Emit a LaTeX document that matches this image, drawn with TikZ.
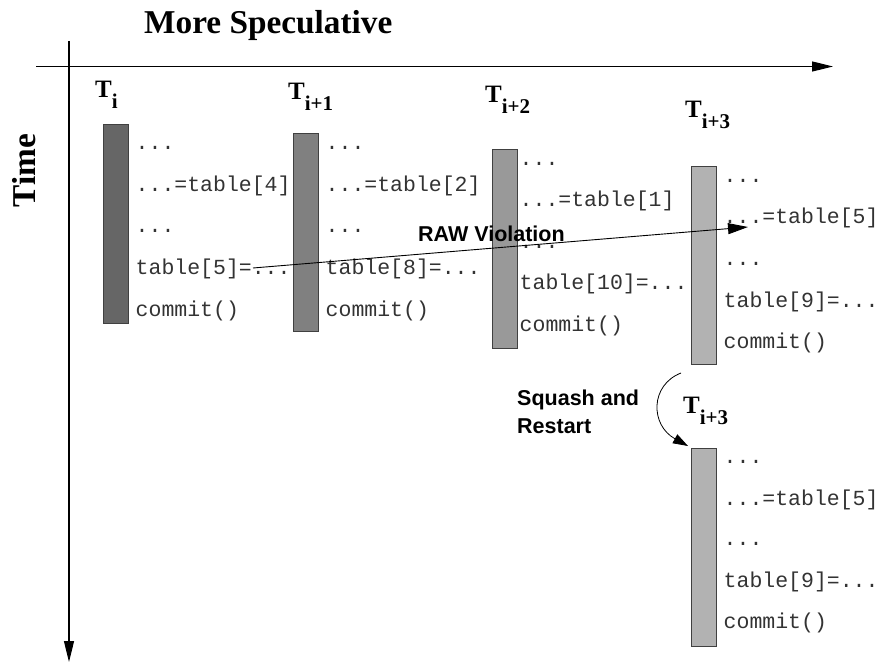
\documentclass[tikz,border=0pt]{standalone}
\usepackage{fontspec}
\setmainfont{Liberation Serif}
\newfontfamily\codefont{Liberation Mono}
\newfontfamily\helfont{Liberation Sans}
\usetikzlibrary{arrows.meta}
\definecolor{gA}{gray}{0.40}
\definecolor{gB}{gray}{0.50}
\definecolor{gC}{gray}{0.60}
\definecolor{gD}{gray}{0.70}
\newcommand{\tsub}[1]{T\raisebox{-11pt}{\fontsize{21}{21}\selectfont #1}}
\begin{document}
\begin{tikzpicture}[x=1pt,y=-1pt,
  axis/.style={line width=1.2pt,-{Triangle[length=21pt,width=10pt]}},
  bar/.style={draw=black!75,line width=0.9pt,minimum width=25pt,minimum height=198pt,anchor=north west,inner sep=0pt},
  code/.style={anchor=base west,inner sep=0pt,text=black!80,font=\codefont\fontsize{21.5}{21.5}\selectfont},
  tlabel/.style={anchor=base west,inner sep=0pt,font=\bfseries\fontsize{25}{25}\selectfont},
  title/.style={inner sep=0pt,font=\bfseries\fontsize{33.3}{33.3}\selectfont},
  note/.style={anchor=base west,inner sep=0pt,font=\helfont\bfseries\fontsize{21.5}{21.5}\selectfont},
  conn/.style={line width=0.9pt,-{Triangle[length=20pt,width=11pt]}}]
\useasboundingbox (0,0) rectangle (881,663);
% axes
\coordinate (hx0) at (36,66.5);
\coordinate (hx1) at (833,66.5);
\coordinate (vy0) at (69,41);
\coordinate (vy1) at (69,662);
\draw[axis] (hx0) -- (hx1);
\draw[axis] (vy0) -- (vy1);
\node[title,anchor=base west] (ms) at (144,33.5) {More Speculative};
\node[title,anchor=base west,rotate=90] (time) at (35,207.5) {Time};
% bars
\node[bar,fill=gA] (b1) at (102.5,124.5) {};
\node[bar,fill=gB] (b2) at (293,133) {};
\node[bar,fill=gC] (b3) at (492,149.5) {};
\node[bar,fill=gD] (b4) at (691,166) {};
\node[bar,fill=gD] (b5) at (691,448) {};
% labels
\node[tlabel] (l1) at (95,98) {\tsub{i}};
\node[tlabel] (l2) at (288,99.5) {\tsub{i+1}};
\node[tlabel] (l3) at (485,103) {\tsub{i+2}};
\node[tlabel] (l4) at (685,118) {\tsub{i+3}};
\node[tlabel] (l5) at (683,413) {\tsub{i+3}};
% column 1
\node[code] (a1) at (135.5,150) {...};
\node[code] (a2) at (135.5,191.5) {...=table[4]};
\node[code] (a3) at (135.5,233) {...};
\node[code] (a4) at (135.5,274.5) {table[5]=...};
\node[code] (a5) at (135.5,316) {commit()};
% column 2
\node[code] (c1) at (325.5,150) {...};
\node[code] (c2) at (325.5,191.5) {...=table[2]};
\node[code] (c3) at (325.5,233) {...};
\node[code] (c4) at (325.5,274.5) {table[8]=...};
\node[code] (c5) at (325.5,316) {commit()};
% column 3
\node[code] (d1) at (519.5,166) {...};
\node[code] (d2) at (519.5,207) {...=table[1]};
\node[code] (d3) at (519.5,248.5) {...};
\node[code] (d4) at (519.5,290) {table[10]=...};
\node[code] (d5) at (519.5,331) {commit()};
% column 4
\node[code] (e1) at (723.5,183) {...};
\node[code] (e2) at (723.5,224) {...=table[5]};
\node[code] (e3) at (723.5,265.5) {...};
\node[code] (e4) at (723.5,307) {table[9]=...};
\node[code] (e5) at (723.5,348) {commit()};
% column 5 (restarted)
\node[code] (f1) at (723.5,463) {...};
\node[code] (f2) at (723.5,505) {...=table[5]};
\node[code] (f3) at (723.5,545.5) {...};
\node[code] (f4) at (723.5,587) {table[9]=...};
\node[code] (f5) at (723.5,628) {commit()};
% RAW violation
\coordinate (rs) at (253,268);
\coordinate (re) at (748,227);
\draw[conn] (rs) -- (re);
\node[note] (raw) at (418,242) {RAW Violation};
% squash and restart
\node[note] (sq1) at (517,405) {Squash and};
\node[note] (sq2) at (517,433) {Restart};
\coordinate (ss) at (681,373);
\coordinate (se) at (688,446);
\draw[line width=0.8pt,-{Triangle[length=15pt,width=10pt]}] (ss) .. controls (650,385) and (650,425) .. (se);
\end{tikzpicture}
\end{document}
